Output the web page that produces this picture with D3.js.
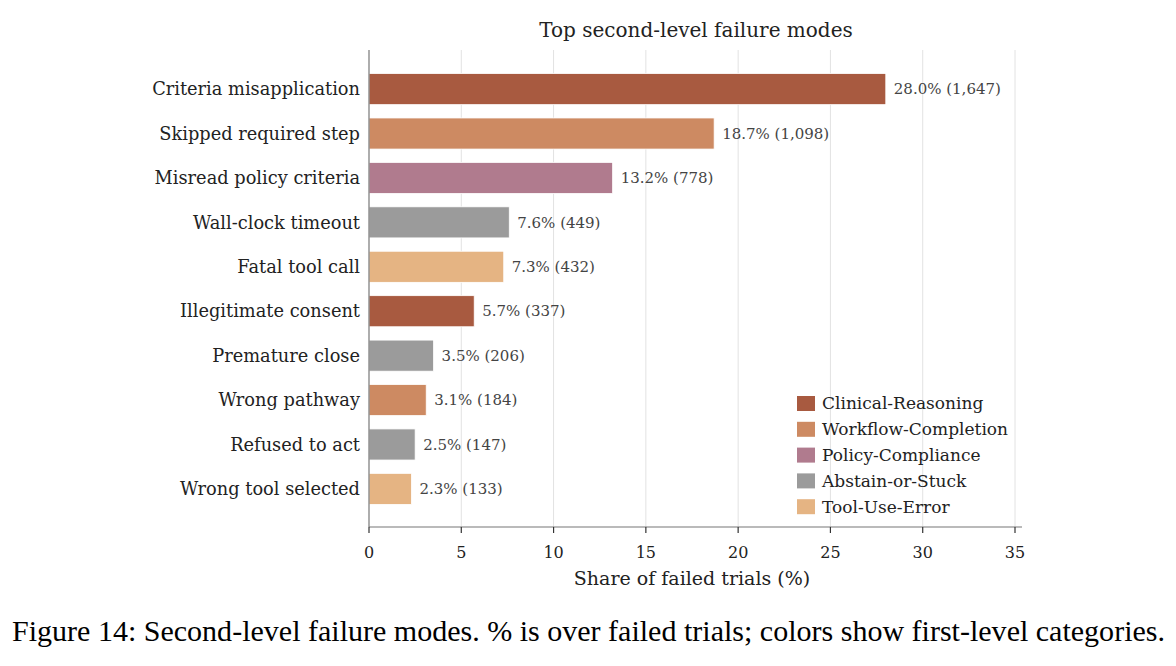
<!DOCTYPE html>
<html>
<head>
<meta charset="utf-8">
<script src="https://cdn.jsdelivr.net/npm/d3@7"></script>
<style>
body { margin: 0; background: #fff; }
svg text { font-family: "DejaVu Serif", serif; }
</style>
</head>
<body>
<div id="drawing"></div>
<script>
"use strict"

/**** DATA ****/

let modes = ["Criteria misapplication", "Skipped required step", "Misread policy criteria",
  "Wall-clock timeout", "Fatal tool call", "Illegitimate consent", "Premature close",
  "Wrong pathway", "Refused to act", "Wrong tool selected"]
let shares = [28.0, 18.7, 13.2, 7.6, 7.3, 5.7, 3.5, 3.1, 2.5, 2.3]
let counts = [1647, 1098, 778, 449, 432, 337, 206, 184, 147, 133]
let groups = ["Clinical-Reasoning", "Workflow-Completion", "Policy-Compliance",
  "Abstain-or-Stuck", "Tool-Use-Error", "Clinical-Reasoning", "Abstain-or-Stuck",
  "Workflow-Completion", "Abstain-or-Stuck", "Tool-Use-Error"]
let categories = ["Clinical-Reasoning", "Workflow-Completion", "Policy-Compliance", "Abstain-or-Stuck", "Tool-Use-Error"]
let xTicks = [0, 5, 10, 15, 20, 25, 30, 35]

let colors = ["#a85a40", "#cd8a62", "#b07b8e", "#9b9b9b", "#e5b483"]

/**** CANVAS ****/

let svgWidth = 1176
let svgHeight = 666

let svg = d3.select("#drawing")
.append("svg")
.attr("width", svgWidth)
.attr("height", svgHeight)

/**** SCALES ****/

let xScale = d3.scaleLinear()
.domain([0, 35])
.range([369, 1015])

let yScale = d3.scaleBand()
.domain(modes)
.range([58, 520])
.paddingInner(0.3)
.paddingOuter(0.35)

let colorScale = d3.scaleOrdinal()
.domain(categories)
.range(colors)

let plotTop = 50
let plotBottom = 527

/**** GRID ****/

svg.selectAll("line.grid")
.data(xTicks.slice(1))
.join("line")
.attr("class", "grid")
.attr("x1", d => xScale(d))
.attr("x2", d => xScale(d))
.attr("y1", plotTop)
.attr("y2", plotBottom)
.attr("stroke", "#e2e2e2")
.attr("stroke-width", 1)

/**** BARS ****/

let rows = modes.map((m, i) => ({mode: m, share: shares[i], count: counts[i], group: groups[i]}))

svg.selectAll("rect.bar")
.data(rows)
.join("rect")
.attr("class", "bar")
.attr("x", xScale(0))
.attr("y", d => yScale(d.mode))
.attr("width", d => xScale(d.share) - xScale(0))
.attr("height", yScale.bandwidth())
.attr("fill", d => colorScale(d.group))
.attr("stroke", "#fff")
.attr("stroke-width", 0.8)

svg.selectAll("text.value")
.data(rows)
.join("text")
.attr("class", "value")
.attr("x", d => xScale(d.share) + 8)
.attr("y", d => yScale(d.mode) + yScale.bandwidth() / 2)
.attr("dy", "0.35em")
.style("font-size", "15px")
.attr("fill", "#444")
.text(d => d.share.toFixed(1) + "% (" + d3.format(",")(d.count) + ")")

/**** AXES ****/

svg.append("line")
.attr("x1", xScale(0))
.attr("x2", xScale(0))
.attr("y1", plotTop)
.attr("y2", plotBottom)
.attr("stroke", "#777")
.attr("stroke-width", 1.2)

svg.append("line")
.attr("x1", xScale(0))
.attr("x2", 1022)
.attr("y1", plotBottom)
.attr("y2", plotBottom)
.attr("stroke", "#777")
.attr("stroke-width", 1.2)

svg.selectAll("line.tick")
.data(xTicks)
.join("line")
.attr("class", "tick")
.attr("x1", d => xScale(d))
.attr("x2", d => xScale(d))
.attr("y1", plotBottom)
.attr("y2", plotBottom + 6)
.attr("stroke", "#333")
.attr("stroke-width", 1.2)

svg.selectAll("text.tick")
.data(xTicks)
.join("text")
.attr("class", "tick")
.attr("x", d => xScale(d))
.attr("y", 558)
.style("text-anchor", "middle")
.style("font-size", "16px")
.attr("fill", "#222")
.text(d => d)

svg.selectAll("text.cat")
.data(modes)
.join("text")
.attr("class", "cat")
.attr("x", 360)
.attr("y", d => yScale(d) + yScale.bandwidth() / 2)
.attr("dy", "0.35em")
.style("font-size", "17.8px")
.style("text-anchor", "end")
.attr("fill", "#222")
.text(d => d)

/**** LABELS ****/

svg.append("text")
.attr("x", 696)
.attr("y", 37)
.style("text-anchor", "middle")
.style("font-size", "20px")
.attr("fill", "#222")
.text("Top second-level failure modes")

svg.append("text")
.attr("x", 692)
.attr("y", 585)
.style("text-anchor", "middle")
.style("font-size", "19px")
.attr("fill", "#222")
.text("Share of failed trials (%)")

/**** LEGEND ****/

let legend = svg.append("g")
.attr("transform", "translate(797,396)")

legend.selectAll("rect")
.data(categories)
.join("rect")
.attr("x", 0)
.attr("y", (d, i) => i * 25.8)
.attr("width", 18)
.attr("height", 15)
.attr("fill", d => colorScale(d))

legend.selectAll("text")
.data(categories)
.join("text")
.attr("x", 25)
.attr("y", (d, i) => i * 25.8 + 7.5)
.attr("dy", "0.35em")
.style("font-size", "17px")
.attr("fill", "#222")
.text(d => d)

/**** CAPTION ****/

svg.append("text")
.attr("x", 12)
.attr("y", 641)
.attr("textLength", 1153)
.attr("lengthAdjust", "spacingAndGlyphs")
.style("font-family", "'Liberation Serif', 'Times New Roman', serif")
.style("font-size", "29px")
.attr("fill", "#000")
.text("Figure 14: Second-level failure modes. % is over failed trials; colors show first-level categories.")
</script>
</body>
</html>
